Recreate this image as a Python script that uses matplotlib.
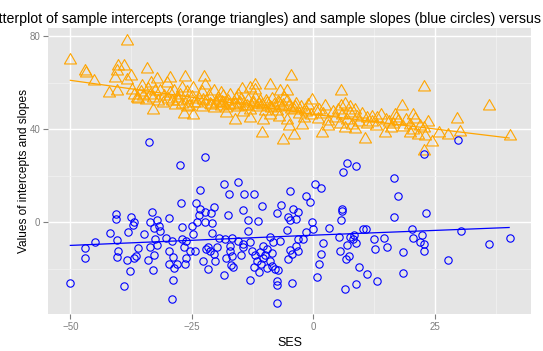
import matplotlib
matplotlib.use("Agg")
import matplotlib.pyplot as plt
import numpy as np
from matplotlib.path import Path

plt.rcParams['font.family'] = ['Liberation Sans', 'DejaVu Sans']

# intercepts (orange triangles): SES and value
int_ses = [-50, -46.9, -46.7, -45.1, -42.1, -40.8, -40.5, -40.4, -40.1, -38.9,
           -38.4, -38.4, -37.5, -37.3, -37, -36.3, -35.3, -34.2, -33.6, -33.4,
           -32.9, -32.2, -31.5, -30.8, -30.1, -29.5, -28.6, -27.1, -26.7, -26.4,
           -24.7, -24.7, -22.5, -22.3, -20.5, -18.5, -17.1, -16.1, -14.7, -13,
           -13, -12, -11.9, -10.6, -10.3, -8.9, -6.8, -6.2, -5.5, -5.5,
           -5.5, -5.1, -4.5, -4, -2.3, -1.5, -0.3, 1.1, 1.8, 3.1,
           5.8, 5.8, 10.7, 11, 13.1, 14.8, 16.8, 18.2, 20.6, 20.6,
           22.7, 22.7, 22.7, 24.4, 25.8, 27.8, 29.6, 30.2, 36.1, 40.4,
           -36, -35, -34.5, -33, -32, -31, -30, -35.5, -34, -32.5,
           -29, -28.5, -28, -27, -26, -25.5, -25, -24, -23.5, -23,
           -22, -21.5, -21, -20, -29.5, -27.5, -26, -23, -20.5, -19.5,
           -19, -18.5, -18, -17.5, -16.5, -16, -15.5, -15, -14, -13.5,
           -13, -12.5, -12, -11.5, -11, -10.5, -10, -18, -14.5, -19,
           -15.5, -9.5, -9, -8.5, -8, -7.5, -7, -6.5, -6, -5,
           -4, -3.5, -3, -2.5, -2, -1, -0.5, -9, -7, 0.5,
           1, 2, 2.5, 3, 4, 4.5, 5, 5.5, 6, 7,
           7.5, 8, 9, 9.5, 10, 11, 12, 6.5, 8.5, 13,
           14, 15, 16, 17, 19, 20, 21, 22, 23.5, 20,
           21.5, 23, 6.5, 7.5, 8.5, 15.5, 16.5, 17.5, 18.5, 12,
           -27.8, -24.6, -21.3, -18.8, -16.2, -13.7, -11.2, -8.7, -6.3, -3.8,
           -25.9, -22.7, -19.6, -17.3, -14.8, -12.4, -9.8, -7.3, -4.6, -1.8]
int_vals = [70, 65.2, 64.2, 61, 55.6, 62.1, 56.3, 65, 67.4, 67.4,
            77.8, 61.4, 62.8, 57, 54.9, 53.5, 58.8, 66.1, 54.9, 59.9,
            48.2, 61.8, 56.3, 54.2, 59.9, 62.1, 56.3, 57.8, 46.7, 62.5,
            57.8, 46.3, 62.5, 59.2, 56.3, 54.2, 54.9, 43.9, 57.3, 57.8,
            44.9, 57, 58.9, 38.5, 43.9, 59.2, 56.3, 35.6, 56.3, 52,
            44.2, 41.3, 62.8, 37.4, 41.7, 47.4, 52.5, 48.4, 38.4, 41.6,
            56.4, 49.9, 35.8, 44.9, 44.9, 38.4, 46.3, 50.2, 46.3, 39.9,
            58.3, 40.6, 30.9, 34.4, 38.5, 37.7, 44.5, 39, 49.9, 37.2,
            53, 54.5, 52.5, 53.5, 52, 51.5, 53, 56, 57.5, 56.5,
            52, 50.5, 53.5, 51, 52.5, 50, 54, 51.5, 53, 49.5,
            52, 54.5, 50.5, 51.5, 55.5, 55, 56, 56, 49, 52.5,
            50, 51.5, 49, 52, 50.5, 53, 49.5, 51.5, 50, 52.5,
            48.5, 51, 53.5, 49.5, 52, 50.5, 48, 47, 47.5, 55.5,
            55, 51.5, 49.5, 53, 50.5, 48, 51.5, 49.5, 53.5, 50,
            48.5, 51, 46.5, 49.5, 45, 50.5, 46, 46, 45.5, 48,
            44.5, 46.5, 50, 43.5, 47.5, 45, 48.5, 42.5, 46, 44,
            47, 42, 45.5, 43, 46.5, 42.5, 45.5, 40.5, 40, 41.5,
            46, 44, 40.5, 45, 44, 42, 44.5, 41.5, 43, 38.5,
            37.5, 37, 51, 49.5, 48.5, 43, 42.5, 43.5, 41, 43,
            52.3, 51.2, 50.9, 51.8, 51.1, 50.2, 50.8, 49.1, 50.6, 49.7,
            49.6, 52.8, 53.3, 50.4, 52.9, 51.6, 52.4, 51.9, 48.8, 48.3]

# slopes (blue circles): SES and value
slope_ses = [-50, -46.9, -46.9, -45, -41.9, -40.6, -40.6, -40.4, -40.1, -40.3,
             -39, -38.4, -38.2, -37.7, -37.5, -37.1, -36.8, -37, -36.4, -36,
             -34.9, -34.1, -33.8, -33.6, -33.6, -33.1, -33, -32.7, -32.7, -32.5,
             -32.2, -32.2, -31.8, -31.5, -30.3, -29.8, -29.8, -29.8, -29.1, -29.1,
             -28.9, -28.8, -28.6, -28.1, -27.4, -27.2, -27.1, -27.1, -26.7, -26.4,
             -26.1, -26.1, -25.3, -25, -24.8, -24.3, -24.1, -24, -23.6, -23.4,
             -23.4, -22.6, -22.3, -22.3, -22.3, -22, -21.7, -21.6, -21.2, -21,
             -20.9, -20.9, -20.5, -20.5, -20.2, -19.9, -19.5, -18.4, -18.4, -18.2,
             -18, -17.5, -17.3, -17.1, -17.1, -16.8, -16.8, -16.6, -15.6, -15.4,
             -14.9, -14.5, -14.4, -14.4, -14.2, -13.4, -13.4, -13, -13, -12.3,
             -12.3, -12, -11.6, -11.3, -11.1, -11, -10.8, -10.5, -10.4, -10.3,
             -9.6, -9.5, -8.9, -8.6, -8.2, -7.9, -7.5, -7.5, -7.4, -7.4,
             -7.2, -6.8, -6.6, -5.5, -5.3, -4.8, -4.8, -4.8, -4.4, -4.3,
             -4.1, -3.6, -3.1, -3.1, -3.1, -2.2, -1.6, -1.6, -0.7, -0.2,
             0, 0.3, 0.8, 1.2, 1.5, 1.5, 1.9, 3.3, 5.2, 5.5,
             5.6, 5.9, 5.9, 6.2, 6.6, 6.7, 6.9, 6.9, 7.4, 7.6,
             8.1, 8.3, 8.7, 8.7, 8.8, 9.5, 10.2, 10.9, 11.1, 12.4,
             12.6, 13.2, 14.6, 15.1, 16.7, 16.7, 17.5, 18.4, 18.4, 20.4,
             20.6, 22, 22.3, 22.7, 22.7, 22.8, 23.2, 27.8, 29.7, 30.3,
             36.1, 40.4, -10, -9, -8.5, -12.7, -3.5, -5.2, -17]
slope_vals = [-26.2, -11.1, -15.4, -8.3, -4.7, 3.6, 1.4, -7.5, -12.5, -14.8,
              -27.5, -16.3, -4, -21, 2.5, -1, 0, -15.4, -14.4, -11.2,
              -5, -16.3, 34.5, -10.8, 0, 4.3, -20.3, -2.4, -13.9, -7.2,
              1, -9.6, -1.4, -3.6, -6.5, 1.9, -12.5, -17.7, -7.9, -33.1,
              -24.9, -14.8, -19.7, -18, 24.5, 8.3, -1.9, -7.2, -10.8, -17.7,
              -7.9, -15.4, -12.2, -1.4, -5, -12.5, 8.2, 0, 3.2, 14,
              5.8, -16.5, 28.3, 4.3, 0.3, -11.5, -10.5, -20.1, -12.2, 3.9,
              -0.4, -4.7, 6.5, -13.7, -16.5, -10.8, -6.5, 16.3, -22.6, -7.2,
              -15.4, 3.2, 12.2, -10.1, -12.2, -6.8, -14.4, -19.1, 17.3, -7.9,
              -13.9, -9.1, 5.3, -10.8, 12.2, 1, -3.6, -8.6, -24.7, 12.2,
              -19.1, -13.9, -16.5, 0.7, -21.5, -12.9, -17.9, 7.2, -10.1, -15.4,
              -11.5, -19.7, -6.2, -18.7, -8.6, -20.1, 4.2, -25.1, -27, -34.7,
              -20.5, -7.9, 7.6, -3.3, -15.8, 13.4, 1, -11.9, -13.7, -26.2,
              5.8, 1.4, 4.3, -7.2, -12.5, -7.2, 11.5, -4, 8.9, 0,
              -2.9, 16.5, -23.5, -18, 14.8, -13.7, -8.9, -2.6, -6.2, -12.2,
              1, 5.8, 5.1, 21.7, -28.5, -15.8, 25.6, -9.8, -14.5, -6.2,
              -7.2, -5.3, 24.3, -26.6, -8.9, -19.4, -2.7, -2.7, -22.3, -7.2,
              -11.5, -25.2, -6.5, -10.4, 19.1, 2.4, 11.5, -12.9, -21.6, -2.9,
              -6.8, -8.6, -5.3, -9.4, -12.2, 29.2, 4, -16.3, 35.3, -3.7,
              -9.4, -6.8, -14, -16.5, -13, -12.5, -10.2, 2.3, -18.4]

# fitted lines
fit_ses = [-50, 0, 40.3]
fit_int = [61.1, 46.5, 36.3]
fit_slope = [-9.9, -5.5, -2.2]

title = ("Scatterplot of sample intercepts (orange triangles) and sample "
         "slopes (blue circles) versus SES")

tri = Path([(0, 1), (-0.866, -0.5), (0.866, -0.5), (0, 1)],
           [Path.MOVETO, Path.LINETO, Path.LINETO, Path.CLOSEPOLY])

fig = plt.figure(figsize=(5.43, 3.51), dpi=100)
ax = fig.add_axes([48/543, 1-314/351, 483/543, 286/351])
ax.set_facecolor('#E5E5E5')
for s in ax.spines.values():
    s.set_visible(False)

ax.set_xlim(-54.6, 44.8)
ax.set_ylim(-39.4, 83.6)
ax.set_xticks([-50, -25, 0, 25])
ax.set_xticks([-37.5, -12.5, 12.5, 37.5], minor=True)
ax.set_yticks([0, 40, 80])
ax.set_yticks([-20, 20, 60], minor=True)
ax.grid(which='major', color='white', lw=1.0)
ax.grid(which='minor', color='#F2F2F2', lw=0.5)
ax.set_axisbelow(True)
ax.tick_params(which='major', colors='#7F7F7F', length=3.5, width=0.8,
               labelsize=7, pad=2)
ax.tick_params(which='minor', length=0)

ax.plot(int_ses, int_vals, linestyle='none', marker=tri, ms=10,
        mfc='none', mec='#FFA500', mew=0.8)
ax.plot(slope_ses, slope_vals, linestyle='none', marker='o', ms=5.3,
        mfc='none', mec='#0000FF', mew=0.8)
ax.plot(fit_ses, fit_int, color='#FFA500', lw=0.9)
ax.plot(fit_ses, fit_slope, color='#0000FF', lw=0.9)

ax.set_xlabel('SES', fontsize=9, labelpad=4)
ax.set_ylabel('Values of intercepts and slopes', fontsize=8.6, labelpad=0)
fig.text(0.5 + 2/543, 1-19/351, title, ha='center', va='center', fontsize=10.2)

fig.savefig('out.png', dpi=100)
